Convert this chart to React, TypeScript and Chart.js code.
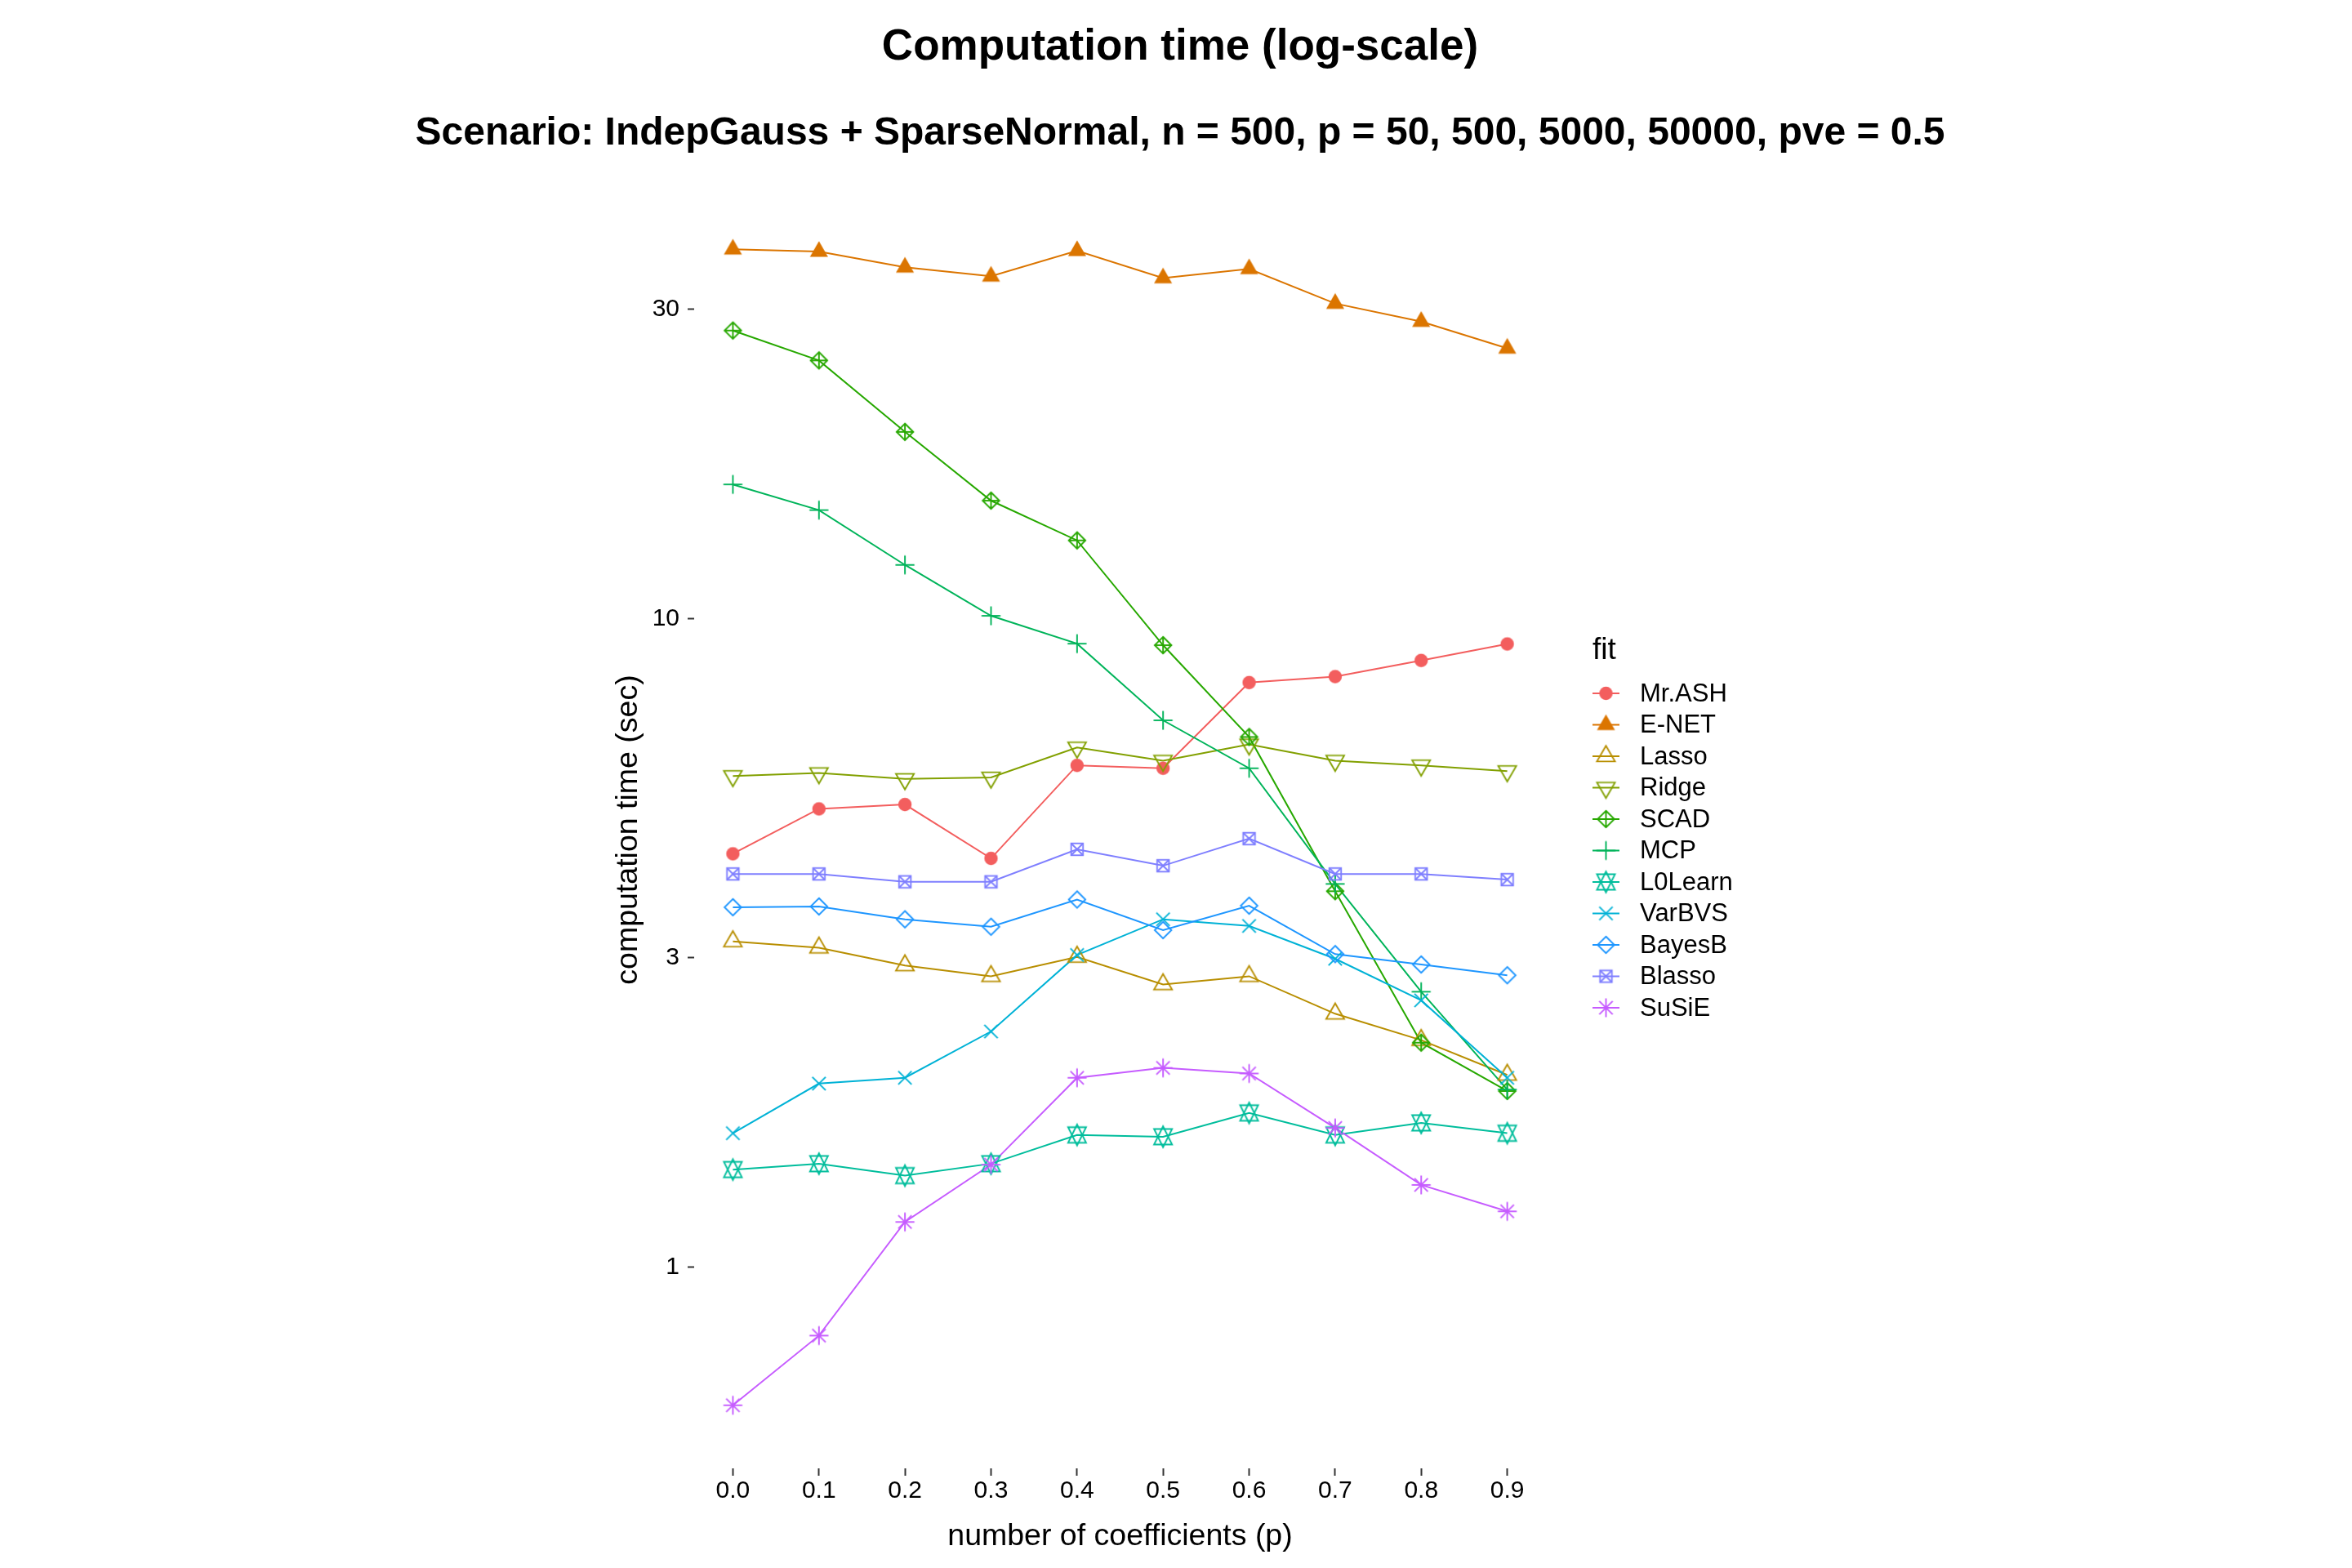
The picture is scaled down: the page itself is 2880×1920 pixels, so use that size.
import { useEffect, useRef } from "react";
import { Chart, registerables } from "chart.js";

Chart.register(...registerables);

const W = 2880;
const H = 1920;
const FONT = "'Liberation Sans', Arial, Helvetica, sans-serif";

// x categories (fraction) and tick labels
const xValues = [0, 0.1, 0.2, 0.3, 0.4, 0.5, 0.6, 0.7, 0.8, 0.9];
const xTicks = [0, 0.1, 0.2, 0.3, 0.4, 0.5, 0.6, 0.7, 0.8, 0.9];
const yTicks = [1, 3, 10, 30];

// computation time (sec)
const mrAsh = [4.34, 5.09, 5.17, 4.27, 5.94, 5.88, 7.97, 8.14, 8.62, 9.14];
const eNet = [37.1, 36.8, 34.8, 33.7, 36.9, 33.5, 34.6, 30.6, 28.7, 26.1];
const lasso = [3.18, 3.11, 2.92, 2.81, 3.01, 2.73, 2.81, 2.46, 2.24, 1.98];
const ridge = [5.72, 5.78, 5.66, 5.69, 6.33, 6.04, 6.4, 6.04, 5.94, 5.82];
const scad = [27.8, 25.0, 19.4, 15.2, 13.2, 9.1, 6.57, 3.8, 2.22, 1.87];
const mcp = [16.1, 14.7, 12.1, 10.1, 9.15, 6.97, 5.88, 3.9, 2.66, 1.88];
const l0Learn = [1.415, 1.445, 1.385, 1.445, 1.6, 1.59, 1.73, 1.6, 1.67, 1.61];
const varBvs = [1.61, 1.92, 1.96, 2.31, 3.03, 3.44, 3.36, 2.99, 2.58, 1.96];
const bayesB = [3.59, 3.6, 3.44, 3.35, 3.69, 3.31, 3.61, 3.04, 2.93, 2.82];
const blasso = [4.04, 4.04, 3.93, 3.93, 4.41, 4.16, 4.58, 4.04, 4.04, 3.96];
const susie = [0.613, 0.785, 1.175, 1.44, 1.96, 2.03, 1.99, 1.64, 1.34, 1.22];

const fits = ["Mr.ASH", "E-NET", "Lasso", "Ridge", "SCAD", "MCP", "L0Learn", "VarBVS", "BayesB", "Blasso", "SuSiE"];
const series = [mrAsh, eNet, lasso, ridge, scad, mcp, l0Learn, varBvs, bayesB, blasso, susie];
const colors = ["#F35E5E", "#DB7500", "#B88E00", "#82A000", "#27A800", "#00B45A", "#00BD9C", "#00B2D6", "#1E96FF", "#7F7FFF", "#C65CFF"];
const shapes = ["circleFilled", "triangleFilled", "triangle", "triangleDown", "diamondPlus", "plus", "star6", "cross", "diamond", "squareCross", "asterisk"];

// plot frame (pixels)
const AREA = { left: 850, right: 1893, top: 234, bottom: 1798 };
const X_MIN = -0.045;
const X_MAX = 0.945;
const Y_MIN = 0.49;
const Y_MAX = 45.6;

const R = 8.2;

function makeMarker(shape: string, color: string): HTMLCanvasElement {
  const size = 36;
  const c = document.createElement("canvas");
  c.width = size;
  c.height = size;
  const ctx = c.getContext("2d")!;
  const cx = size / 2;
  const cy = size / 2;
  ctx.strokeStyle = color;
  ctx.fillStyle = color;
  ctx.lineWidth = 1.9;
  ctx.lineJoin = "miter";

  const tri = (dir: number) => {
    const r = 1.5551 * R;
    const yc = 0.7776 * R;
    const xc = 1.3468 * R;
    ctx.beginPath();
    ctx.moveTo(cx, cy - dir * r);
    ctx.lineTo(cx + xc, cy + dir * yc);
    ctx.lineTo(cx - xc, cy + dir * yc);
    ctx.closePath();
  };
  const seg = (x1: number, y1: number, x2: number, y2: number) => {
    ctx.beginPath();
    ctx.moveTo(cx + x1, cy + y1);
    ctx.lineTo(cx + x2, cy + y2);
    ctx.stroke();
  };
  const diamond = () => {
    const d = 1.253 * R;
    ctx.beginPath();
    ctx.moveTo(cx, cy - d);
    ctx.lineTo(cx + d, cy);
    ctx.lineTo(cx, cy + d);
    ctx.lineTo(cx - d, cy);
    ctx.closePath();
    ctx.stroke();
    return d;
  };

  switch (shape) {
    case "circleFilled":
      ctx.beginPath();
      ctx.arc(cx, cy, R, 0, Math.PI * 2);
      ctx.fill();
      break;
    case "triangleFilled":
      tri(1);
      ctx.fill();
      break;
    case "triangle":
      tri(1);
      ctx.stroke();
      break;
    case "triangleDown":
      tri(-1);
      ctx.stroke();
      break;
    case "diamondPlus": {
      const d = diamond();
      seg(-d, 0, d, 0);
      seg(0, -d, 0, d);
      break;
    }
    case "plus": {
      const p = Math.SQRT2 * R;
      seg(-p, 0, p, 0);
      seg(0, -p, 0, p);
      break;
    }
    case "star6": {
      const r = 1.5551 * R;
      const yc = 0.5 * (0.7776 * R + r);
      const xc = 1.3468 * R;
      ctx.beginPath();
      ctx.moveTo(cx, cy - r);
      ctx.lineTo(cx + xc, cy + yc);
      ctx.lineTo(cx - xc, cy + yc);
      ctx.closePath();
      ctx.stroke();
      ctx.beginPath();
      ctx.moveTo(cx, cy + r);
      ctx.lineTo(cx + xc, cy - yc);
      ctx.lineTo(cx - xc, cy - yc);
      ctx.closePath();
      ctx.stroke();
      break;
    }
    case "cross":
      seg(-R, -R, R, R);
      seg(-R, R, R, -R);
      break;
    case "diamond":
      diamond();
      break;
    case "squareCross": {
      const s = 0.886 * R;
      ctx.strokeRect(cx - s, cy - s, 2 * s, 2 * s);
      seg(-s, -s, s, s);
      seg(-s, s, s, -s);
      break;
    }
    case "asterisk": {
      const p = Math.SQRT2 * R;
      seg(-R, -R, R, R);
      seg(-R, R, R, -R);
      seg(-p, 0, p, 0);
      seg(0, -p, 0, p);
      break;
    }
  }
  return c;
}

const App = () => {
  const canvasRef = useRef<HTMLCanvasElement>(null);

  useEffect(() => {
    document.body.style.margin = "0";
    if (!canvasRef.current) return;

    const markers = shapes.map((s, i) => makeMarker(s, colors[i]));

    const pointSets = fits.map((name, i) => ({
      label: name,
      data: xValues.map((x, j) => ({ x, y: series[i][j] })),
      showLine: false,
      pointStyle: markers[i],
      pointRadius: 8,
      pointHoverRadius: 8,
      borderColor: colors[i],
      backgroundColor: colors[i],
      order: fits.length - i,
    }));
    const lineSets = fits.map((name, i) => ({
      label: name + " line",
      data: xValues.map((x, j) => ({ x, y: series[i][j] })),
      showLine: true,
      pointRadius: 0,
      borderColor: colors[i],
      backgroundColor: colors[i],
      borderWidth: 2,
      tension: 0,
      order: 100 - i,
    }));

    const decor = {
      id: "decor",
      afterDraw(chart: Chart) {
        const ctx = chart.ctx;
        ctx.save();
        ctx.fillStyle = "#000";
        ctx.textAlign = "center";
        ctx.textBaseline = "middle";
        ctx.font = `bold 53px ${FONT}`;
        ctx.fillText("Computation time (log-scale)", 1445, 58);
        ctx.font = `bold 48px ${FONT}`;
        ctx.fillText("Scenario: IndepGauss + SparseNormal, n = 500, p = 50, 500, 5000, 50000, pve = 0.5", 1445, 164);

        // legend
        ctx.textAlign = "left";
        ctx.font = `37px ${FONT}`;
        ctx.fillText("fit", 1950, 797);
        ctx.font = `31px ${FONT}`;
        fits.forEach((name, i) => {
          const y = 849 + i * 38.5;
          ctx.strokeStyle = colors[i];
          ctx.lineWidth = 2.2;
          ctx.beginPath();
          ctx.moveTo(1950, y);
          ctx.lineTo(1983, y);
          ctx.stroke();
          const m = markers[i];
          ctx.drawImage(m, 1966.5 - m.width / 2, y - m.height / 2);
          ctx.fillStyle = "#000";
          ctx.fillText(name, 2008, y + 1);
        });
        ctx.restore();
      },
    };

    const chart = new Chart(canvasRef.current, {
      type: "scatter",
      data: { datasets: [...pointSets, ...lineSets] as any },
      options: {
        animation: false,
        responsive: false,
        events: [],
        layout: {
          padding: { left: 0, top: AREA.top, right: W - AREA.right, bottom: 0 },
        },
        plugins: {
          legend: { display: false },
          tooltip: { enabled: false },
          title: { display: false },
        },
        scales: {
          x: {
            type: "linear",
            min: X_MIN,
            max: X_MAX,
            afterBuildTicks: (s: any) => {
              s.ticks = xTicks.map((v) => ({ value: v }));
            },
            afterFit: (s: any) => {
              s.height = H - AREA.bottom;
            },
            ticks: {
              callback: (v: any) => Number(v).toFixed(1),
              font: { size: 30, family: FONT },
              color: "#000",
              padding: 1,
              maxRotation: 0,
              autoSkip: false,
            },
            grid: {
              display: true,
              drawOnChartArea: false,
              drawTicks: true,
              tickLength: 9,
              tickWidth: 2,
              tickColor: "#333",
            },
            border: { display: false },
            title: {
              display: true,
              text: "number of coefficients (p)",
              font: { size: 37.5, family: FONT },
              color: "#000",
              padding: { top: 0, bottom: 16 },
            },
          },
          y: {
            type: "logarithmic",
            min: Y_MIN,
            max: Y_MAX,
            afterBuildTicks: (s: any) => {
              s.ticks = yTicks.map((v) => ({ value: v }));
            },
            afterFit: (s: any) => {
              s.width = AREA.left;
            },
            ticks: {
              callback: (v: any) => String(v),
              font: { size: 30, family: FONT },
              color: "#000",
              padding: 10,
              autoSkip: false,
            },
            grid: {
              display: true,
              drawOnChartArea: false,
              drawTicks: true,
              tickLength: 8,
              tickWidth: 2,
              tickColor: "#333",
            },
            border: { display: false },
            title: {
              display: true,
              text: "computation time (sec)",
              font: { size: 37.5, family: FONT },
              color: "#000",
              padding: { top: 747, bottom: 0 },
            },
          },
        },
      },
      plugins: [decor],
    });

    return () => {
      chart.destroy();
    };
  }, []);

  return (
    <div style={{ width: W, height: H, background: "#fff" }}>
      <canvas ref={canvasRef} width={W} height={H} style={{ display: "block" }}></canvas>
    </div>
  );
};

export default App;
